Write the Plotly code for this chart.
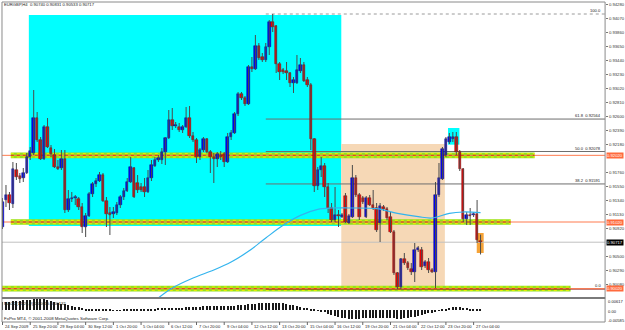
import plotly.graph_objects as go

W, H = 625, 330

title_text = "EURGBP,H4  0.90740 0.90831 0.90533 0.90717"

opens = [
0.90945, 0.91350, 0.91425, 0.91290, 0.91800, 0.91710, 0.91680, 0.91755, 0.91995, 0.92055,
0.92580, 0.92250, 0.91965, 0.92445, 0.92130, 0.92025, 0.91845, 0.91830, 0.91965, 0.91200,
0.91365, 0.91380, 0.91365, 0.91245, 0.90945, 0.91110, 0.91440, 0.91590, 0.91635, 0.91725,
0.91335, 0.91155, 0.91140, 0.91155, 0.91275, 0.91395, 0.91485, 0.91620, 0.91830, 0.91605,
0.91545, 0.91545, 0.91470, 0.91680, 0.91860, 0.91950, 0.91950, 0.92070, 0.92280, 0.92550,
0.92460, 0.92445, 0.92400, 0.92445, 0.92580, 0.92310, 0.92250, 0.91995, 0.92100, 0.92265,
0.92070, 0.91995, 0.91965, 0.92025, 0.92040, 0.91920, 0.92295, 0.92355, 0.92640, 0.92940,
0.92880, 0.92790, 0.93345, 0.93315, 0.93660, 0.93495, 0.93450, 0.93645, 0.94020, 0.93960,
0.93390, 0.93300, 0.93285, 0.93255, 0.93105, 0.93105, 0.93285, 0.93375, 0.93150, 0.93075,
0.92265, 0.91560, 0.91800, 0.91860, 0.91545, 0.91230, 0.91050, 0.91125, 0.91095, 0.91410,
0.91005, 0.91095, 0.91680, 0.91425, 0.91380, 0.91095, 0.91380, 0.91275, 0.91230, 0.91005,
0.91245, 0.91215, 0.91095, 0.90870, 0.90255, 0.90045, 0.90465, 0.90405, 0.90315, 0.90270,
0.90600, 0.90600, 0.90360, 0.90420, 0.90300, 0.90270, 0.91425, 0.91665, 0.92025, 0.92220,
0.92265, 0.92295, 0.92070, 0.91815, 0.91065, 0.91125, 0.91125, 0.91140, 0.90740]

highs = [
0.91380, 0.91575, 0.91470, 0.91920, 0.91905, 0.91755, 0.91830, 0.92055, 0.92145, 0.93000,
0.92670, 0.92295, 0.92475, 0.92580, 0.92175, 0.92115, 0.91950, 0.92100, 0.92100, 0.91500,
0.91470, 0.91425, 0.91395, 0.91305, 0.91155, 0.91470, 0.91620, 0.91680, 0.91770, 0.91755,
0.91395, 0.91245, 0.91245, 0.91320, 0.91425, 0.91530, 0.91680, 0.91995, 0.91845, 0.91725,
0.91605, 0.91680, 0.91800, 0.91950, 0.91995, 0.92025, 0.92130, 0.92295, 0.92700, 0.92730,
0.92520, 0.92505, 0.92475, 0.92745, 0.92760, 0.92370, 0.92280, 0.92130, 0.92295, 0.92280,
0.92100, 0.92055, 0.92070, 0.92085, 0.92070, 0.92355, 0.92400, 0.92670, 0.92970, 0.92970,
0.92910, 0.93375, 0.93495, 0.93825, 0.93705, 0.93555, 0.93705, 0.94050, 0.94140, 0.93975,
0.93420, 0.93330, 0.93420, 0.93270, 0.93195, 0.93525, 0.93480, 0.93420, 0.93195, 0.93105,
0.92280, 0.91845, 0.91995, 0.91905, 0.91605, 0.91305, 0.91545, 0.91200, 0.91155, 0.91455,
0.91140, 0.91875, 0.91725, 0.91455, 0.91410, 0.91410, 0.91425, 0.91500, 0.91305, 0.91305,
0.91275, 0.91245, 0.91170, 0.90900, 0.90270, 0.90480, 0.90555, 0.90435, 0.90405, 0.90705,
0.90660, 0.90645, 0.90450, 0.90480, 0.90330, 0.91620, 0.91905, 0.92145, 0.92295, 0.92355,
0.92370, 0.92370, 0.92100, 0.91830, 0.91170, 0.91230, 0.91170, 0.91350, 0.90831]

lows = [
0.90915, 0.91245, 0.91200, 0.91230, 0.91650, 0.91605, 0.91620, 0.91740, 0.91950, 0.92025,
0.92220, 0.91950, 0.91950, 0.92130, 0.91995, 0.91830, 0.91800, 0.91800, 0.91155, 0.91170,
0.91320, 0.91275, 0.91200, 0.90855, 0.90795, 0.91095, 0.91395, 0.91545, 0.91620, 0.91320,
0.90945, 0.90825, 0.91080, 0.91125, 0.91230, 0.91350, 0.91470, 0.91605, 0.91380, 0.91455,
0.91470, 0.91395, 0.91455, 0.91635, 0.91845, 0.91920, 0.91890, 0.91875, 0.92265, 0.92400,
0.92430, 0.92370, 0.92355, 0.92430, 0.92280, 0.92220, 0.91905, 0.91950, 0.92070, 0.92055,
0.91755, 0.91605, 0.91845, 0.91950, 0.91845, 0.91905, 0.92250, 0.92340, 0.92610, 0.92850,
0.92760, 0.92775, 0.93270, 0.93300, 0.93450, 0.93420, 0.93420, 0.93525, 0.93870, 0.93255,
0.93150, 0.93240, 0.93150, 0.93045, 0.92955, 0.93090, 0.93255, 0.93120, 0.93045, 0.92100,
0.91470, 0.91500, 0.91695, 0.91395, 0.91155, 0.91020, 0.91020, 0.90945, 0.91080, 0.91005,
0.90990, 0.91080, 0.91395, 0.91050, 0.91290, 0.91080, 0.91260, 0.91200, 0.90870, 0.90720,
0.91185, 0.91050, 0.90855, 0.90225, 0.90015, 0.90015, 0.90375, 0.90300, 0.90225, 0.90120,
0.90570, 0.90300, 0.90330, 0.90255, 0.90255, 0.90030, 0.91395, 0.91650, 0.91995, 0.92190,
0.92220, 0.92025, 0.91785, 0.91020, 0.90975, 0.90975, 0.91095, 0.90705, 0.90533]

closes = [
0.91320, 0.91425, 0.91305, 0.91815, 0.91695, 0.91665, 0.91755, 0.91995, 0.92085, 0.92580,
0.92250, 0.91965, 0.92445, 0.92145, 0.92040, 0.91845, 0.91815, 0.91965, 0.91200, 0.91365,
0.91380, 0.91395, 0.91245, 0.90945, 0.91110, 0.91440, 0.91590, 0.91635, 0.91725, 0.91335,
0.91140, 0.91125, 0.91170, 0.91275, 0.91395, 0.91485, 0.91620, 0.91845, 0.91395, 0.91500,
0.91500, 0.91470, 0.91680, 0.91875, 0.91950, 0.91980, 0.92070, 0.92280, 0.92550, 0.92460,
0.92475, 0.92400, 0.92445, 0.92580, 0.92310, 0.92250, 0.91995, 0.92100, 0.92265, 0.92070,
0.91995, 0.91965, 0.92040, 0.91995, 0.91920, 0.92295, 0.92355, 0.92640, 0.92940, 0.92880,
0.92790, 0.93345, 0.93315, 0.93660, 0.93480, 0.93450, 0.93645, 0.94020, 0.93945, 0.93390,
0.93270, 0.93270, 0.93255, 0.93105, 0.93150, 0.93300, 0.93375, 0.93135, 0.93075, 0.92265,
0.91560, 0.91800, 0.91860, 0.91545, 0.91230, 0.91050, 0.91125, 0.91110, 0.91125, 0.91020,
0.91110, 0.91680, 0.91425, 0.91095, 0.91320, 0.91380, 0.91275, 0.91230, 0.90900, 0.91260,
0.91215, 0.91080, 0.90870, 0.90255, 0.90045, 0.90465, 0.90405, 0.90330, 0.90270, 0.90600,
0.90630, 0.90345, 0.90420, 0.90300, 0.90270, 0.91425, 0.91680, 0.92115, 0.92265, 0.92295,
0.92295, 0.92070, 0.91815, 0.91065, 0.91125, 0.91110, 0.91140, 0.90750, 0.90717]

# moving average (read at sparse bars)
ma_idx = [44, 49, 55, 61, 66, 71, 76, 81, 86, 91, 95, 100, 108, 114, 120, 124, 129, 133, 138]
ma_val = [0.8984, 0.9003, 0.9018, 0.9030, 0.9042, 0.9058, 0.9078, 0.9097, 0.9112, 0.9121,
          0.9123, 0.9123, 0.9122, 0.9115, 0.9110, 0.9108, 0.9115, 0.9117, 0.9116]

# MACD histogram (x 1e-4)
macd_hist = [
40, 42, 44, 46, 47, 48, 50, 52, 54, 55, 56, 56, 55, 53,
48, 42, 38, 34, 30, 26,
22, 19, 16, 12, 9, 6,
4, 3, 3, 2, 2, 2, 1, 1, 1, 2, 2, 2, 3, 3, 4, 5, 6,
8, 9, 10, 11, 12, 12, 13, 13, 14, 14,
15, 16, 17, 18, 19, 20, 20, 20, 20, 21, 21, 22, 22, 23, 24, 25, 26, 28,
30, 32, 34, 36, 37, 38, 38, 38, 37, 36, 35,
32, 29, 26, 22, 18, 14, 10, 6, 3, 1,
-4, -10, -16, -22, -28, -33, -37, -40, -42, -43,
-42, -41, -40, -39, -38, -38, -38, -38, -38, -38, -39, -40, -42, -42, -40, -38,
-35, -31, -27, -23, -19, -15, -11, -7, -3, 2,
8, 12, 15, 16, 16, 14, 12, 9, 6, 4, 2]

price_ticks = [0.94280, 0.94070, 0.93860, 0.93650, 0.93440, 0.93230, 0.93020, 0.92810,
               0.92600, 0.92390, 0.92180, 0.91760, 0.91550, 0.91340, 0.91130,
               0.90920, 0.90500, 0.90290, 0.90080, 0.89870]

date_idx = [0, 8, 16, 24, 32, 40, 48, 56, 64, 72, 80, 88, 96, 104, 112, 120, 128, 136]
date_labels = ["24 Sep 2009", "25 Sep 20:00", "29 Sep 04:00", "30 Sep 12:00", "1 Oct 20:00",
               "5 Oct 04:00", "6 Oct 12:00", "7 Oct 20:00", "9 Oct 04:00", "12 Oct 12:00",
               "13 Oct 20:00", "15 Oct 04:00", "16 Oct 12:00", "19 Oct 20:00", "21 Oct 04:00",
               "22 Oct 12:00", "23 Oct 20:00", "27 Oct 04:00"]

levels = [0.92020, 0.91020, 0.90020]          # support / resistance lines
level_band_end = [153.6, 146.7, 164.0]        # where each green band stops (bar units)
level_band_start = [2.4, 2.4, -0.2]
bid = 0.90717
fib_high, fib_low = 0.94140, 0.90015
fib_start = 76
fib_levels = [(1.0, "100.0"), (0.618, "61.8"), (0.5, "50.0"), (0.382, "38.2"), (0.0, "0.0")]

cyan_box = (7.6, 97.8, 0.94125, 0.90960)
peach_box = (97.8, 127.7, 0.92190, 0.89990)
small_cyan_box = (128.6, 131.9, 0.92430, 0.92180)
orange_box = (136.9, 138.9, 0.90855, 0.90555)

macd_range = (-0.00585, 0.00617)

XMIN, XMAX = -0.15, 173.95
YMIN, YMAX = 0.8988, 0.9432

def px_x(p):
    return p / W

def px_y(p):
    return 1 - p / H

fig = go.Figure()

# wicks
wx, wy = [], []
for i, (hh, ll) in enumerate(zip(highs, lows)):
    wx += [i, i, None]
    wy += [ll, hh, None]
fig.add_trace(go.Scatter(x=wx, y=wy, mode="lines", line=dict(color="#4a4a4a", width=1),
                         hoverinfo="skip", xaxis="x", yaxis="y"))

# bodies
base, hgt, col, lcol = [], [], [], []
for o, c in zip(opens, closes):
    base.append(min(o, c))
    hgt.append(max(abs(c - o), 0.00012))
    if c >= o:
        col.append("#0000ff"); lcol.append("#00007a")
    else:
        col.append("#ff0000"); lcol.append("#7a0000")
fig.add_trace(go.Bar(x=list(range(len(opens))), y=hgt, base=base, width=0.72,
                     marker=dict(color=col, line=dict(color=lcol, width=0.5)),
                     hoverinfo="skip", xaxis="x", yaxis="y"))

# moving average
fig.add_trace(go.Scatter(x=ma_idx, y=ma_val, mode="lines",
                         line=dict(color="#33b4ee", width=1.2, shape="spline"),
                         hoverinfo="skip", xaxis="x", yaxis="y"))

# MACD histogram
hist_vals = [v * 1e-4 for v in macd_hist]
fig.add_trace(go.Bar(x=list(range(len(hist_vals))), y=hist_vals, width=0.38,
                     marker=dict(color="#1a1a1a", line=dict(width=0)),
                     hoverinfo="skip", xaxis="x2", yaxis="y2"))

shapes = []
def rect(x0, x1, y0, y1, color, xref="x", yref="y", layer="below"):
    shapes.append(dict(type="rect", xref=xref, yref=yref, x0=x0, x1=x1, y0=y0, y1=y1,
                       fillcolor=color, line=dict(width=0), layer=layer))

def hline(x0, x1, y, color, width=1, dash="solid", xref="x", layer="below"):
    shapes.append(dict(type="line", xref=xref, yref="y", x0=x0, x1=x1, y0=y, y1=y,
                       line=dict(color=color, width=width, dash=dash), layer=layer))

rect(*cyan_box[:2], cyan_box[2], cyan_box[3], "#00ffff")
rect(*peach_box[:2], peach_box[2], peach_box[3], "#f6d8b6")
rect(*small_cyan_box[:2], small_cyan_box[2], small_cyan_box[3], "#00ffff")
rect(*orange_box[:2], orange_box[2], orange_box[3], "#f5a337")

band_half = 0.00042
for lv, x0b, x1b in zip(levels, level_band_start, level_band_end):
    rect(x0b, x1b, lv - band_half, lv + band_half, "#93e01c")
    hline(x0b, x1b, lv + band_half * 0.6, "#f2f200", 1, "dot")
    hline(x0b, x1b, lv - band_half * 0.6, "#f2f200", 1, "dot")

# fibonacci lines
for r, name in fib_levels:
    lv = fib_low + (fib_high - fib_low) * r
    if r == 1.0:
        hline(fib_start, XMAX, lv, "#9a9a9a", 1, "dot")
    elif r == 0.0:
        hline(fib_start, XMAX, lv, "#7a0000", 1)
    else:
        hline(fib_start, XMAX, lv, "#6e6e6e", 1)

# bid line
hline(XMIN, XMAX, bid, "#c0c0c0", 1)
# level lines (full width)
for lv, x0b, x1b in zip(levels, level_band_start, level_band_end):
    hline(XMIN, XMAX, lv, "#ff7b4f", 1)
    hline(x0b, x1b, lv, "#d8401a", 1, "dot")

# panel frames
for (t, b) in [(2, 298), (298, 322)]:
    shapes.append(dict(type="rect", xref="paper", yref="paper", x0=px_x(2), x1=px_x(608),
                       y0=px_y(b), y1=px_y(t), line=dict(color="#8a8a8a", width=1),
                       fillcolor="rgba(0,0,0,0)", layer="above"))
shapes.append(dict(type="line", xref="paper", yref="paper", x0=px_x(2), x1=px_x(608),
                   y0=px_y(298), y1=px_y(298), line=dict(color="#7a7a7a", width=2), layer="above"))
# date ticks
for i in date_idx:
    shapes.append(dict(type="line", xref="x2", yref="paper", x0=i, x1=i,
                       y0=px_y(322), y1=px_y(325), line=dict(color="#666", width=1)))

ann = []
F = "Liberation Sans"
def text(x, y, s, size=4.2, color="#222", xanchor="left", yanchor="middle", xref="paper",
         yref="paper", bg=None):
    d = dict(x=x, y=y, text=s, showarrow=False, xref=xref, yref=yref, xanchor=xanchor,
             yanchor=yanchor, font=dict(size=size, color=color, family=F), borderpad=0)
    if bg:
        d["bgcolor"] = bg
    ann.append(d)

text(px_x(3), px_y(5), title_text, size=4.2)
for r, name in fib_levels:
    lv = fib_low + (fib_high - fib_low) * r
    label = name if r in (1.0, 0.0) else f"{name}  {lv:.5f}"
    text(px_x(605), lv, label, size=4.1, xanchor="right", yanchor="bottom", yref="y")

for lv in levels:
    text(px_x(609), lv, f"{lv:.5f}", size=4.2, color="#ffffff", yref="y", bg="#ff6a3d")
text(px_x(609), bid, f"{bid:.5f}", size=4.2, color="#ffffff", yref="y", bg="#000000")

text(px_x(3), px_y(303), "MACD(12,26,9) 0.00015 0.00132", size=4.2)
text(px_x(3), px_y(318.5), "FxPro MT4, © 2001-2008 MetaQuotes Software Corp.", size=4.4)
text(px_x(610), px_y(301), f"{macd_range[1]:.5f}", size=4.1)
text(px_x(610), px_y(311), "0.00", size=4.1)
text(px_x(610), px_y(320.5), f"{macd_range[0]:.5f}", size=4.1)

for i, lab in zip(date_idx, date_labels):
    text(i + 0.4, px_y(326.5), lab, size=4.1, xref="x2")

fig.update_layout(
    width=W, height=H, margin=dict(l=0, r=0, t=0, b=0),
    paper_bgcolor="white", plot_bgcolor="white", showlegend=False,
    shapes=shapes, annotations=ann, bargap=0,
    xaxis=dict(domain=[px_x(2), px_x(608)], range=[XMIN, XMAX], showgrid=False,
               zeroline=False, showticklabels=False, fixedrange=True),
    yaxis=dict(domain=[px_y(298), px_y(2)], range=[YMIN, YMAX], side="right",
               tickvals=price_ticks, ticktext=[f"{v:.5f}" for v in price_ticks],
               tickfont=dict(size=4.2, color="#333", family=F), ticks="outside", ticklen=2,
               tickcolor="#777", showgrid=False, zeroline=False, fixedrange=True),
    xaxis2=dict(domain=[px_x(2), px_x(608)], range=[XMIN, XMAX], anchor="y2",
                showgrid=False, zeroline=False, showticklabels=False, fixedrange=True),
    yaxis2=dict(domain=[px_y(322), px_y(298)], range=list(macd_range), side="right",
                showticklabels=False, showgrid=False, zeroline=False, fixedrange=True),
)

fig.write_html("out.html", config={"displayModeBar": False})
